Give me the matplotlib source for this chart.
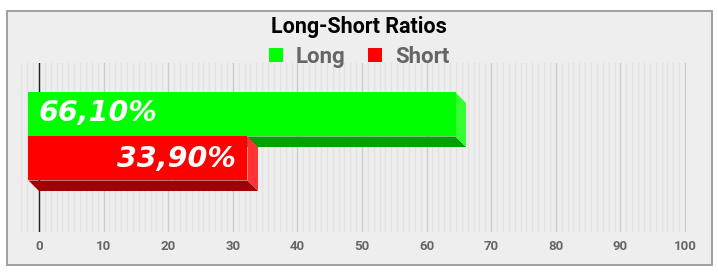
import matplotlib
matplotlib.use('Agg')
import matplotlib.pyplot as plt
from matplotlib.patches import Polygon, Rectangle, Patch
from matplotlib.ticker import MultipleLocator

plt.rcParams['font.family'] = 'Roboto'

# data
categories = ['Long', 'Short']
ratios = [66.10, 33.90]
labels = ['66,10%', '33,90%']
x_ticks = [0, 10, 20, 30, 40, 50, 60, 70, 80, 90, 100]

front_colors = ['#00ff00', '#ff0000']
side_colors = ['#33ff33', '#ff3333']
bottom_colors = ['#00a000', '#a00000']

W, H = 718, 279
fig = plt.figure(figsize=(W / 100, H / 100), dpi=100)
fig.patch.set_facecolor('white')

# outer frame
fig.patches.append(Rectangle((7 / W, 1 - 265 / H), 705 / W, 254 / H,
                             transform=fig.transFigure, facecolor='#eeeeee',
                             edgecolor='#999999', lw=1.3, zorder=-1))

ax_l, ax_r, ax_t, ax_b = 20.9, 686.3, 63, 232
ax = fig.add_axes([ax_l / W, 1 - ax_b / H, (ax_r - ax_l) / W, (ax_b - ax_t) / H])
ax.set_zorder(1)
ax.set_facecolor('none')
ax.set_xlim(-2.8, 100.2)
ax.set_ylim(2.432, -1.409)

for s in ax.spines.values():
    s.set_visible(False)

ax.set_xticks(x_ticks)
ax.xaxis.set_minor_locator(MultipleLocator(10 / 11))
ax.set_yticks([])
ax.tick_params(axis='x', which='both', length=0, pad=6, labelsize=9.5, labelcolor='#666666')
for t in ax.get_xticklabels():
    t.set_fontweight('bold')
ax.grid(axis='x', which='minor', color='#e2e2e2', lw=1)
ax.grid(axis='x', which='major', color='#cccccc', lw=1)
ax.set_axisbelow(True)
ax.axvline(0, color='#222222', lw=1, zorder=1)

# 3D depth in data units
depth = 10.5
ppx = (ax_r - ax_l) / (100.2 + 2.8)
ppy = (ax_b - ax_t) / (2.432 + 1.409)
dx = depth / ppx
dy = depth / ppy

for i, v in enumerate(ratios):
    top, bot = i - 0.5, i + 0.5
    bottom_face = [(-dx, bot - dy), (v - dx, bot - dy), (v, bot), (0, bot)]
    side_face = [(v - dx, top - dy), (v, top), (v, bot), (v - dx, bot - dy)]
    front_face = [(-dx, top - dy), (v - dx, top - dy), (v - dx, bot - dy), (-dx, bot - dy)]
    ax.add_patch(Polygon(bottom_face, closed=True, facecolor=bottom_colors[i], lw=0, zorder=3))
    ax.add_patch(Polygon(side_face, closed=True, facecolor=side_colors[i], lw=0, zorder=3))
    ax.add_patch(Polygon(front_face, closed=True, facecolor=front_colors[i], lw=0, zorder=3))
    if i == 0:
        ax.text(-dx + 1.5, i - dy - 0.03, labels[i], ha='left', va='center', color='white',
                fontsize=20.5, fontweight='bold', fontstyle='italic', family='DejaVu Sans', zorder=4)
    else:
        ax.text(v - dx - 1.85, i - dy + 0.02, labels[i], ha='right', va='center', color='white',
                fontsize=20.5, fontweight='bold', fontstyle='italic', family='DejaVu Sans', zorder=4)

fig.text(0.5, 1 - 27 / H, 'Long-Short Ratios', ha='center', va='center',
         fontsize=15.5, fontweight='bold', color='black')

handles = [Patch(facecolor=c, edgecolor='none') for c in front_colors]
leg = fig.legend(handles, categories, loc='center', bbox_to_anchor=(0.5, 1 - 57 / H),
                 ncol=2, frameon=False, handlelength=0.62, handleheight=0.62,
                 handletextpad=0.6, columnspacing=1.0,
                 prop={'size': 16, 'weight': 'bold'})
for t in leg.get_texts():
    t.set_color('#666666')

plt.savefig('out.png', dpi=100)
plt.close()
